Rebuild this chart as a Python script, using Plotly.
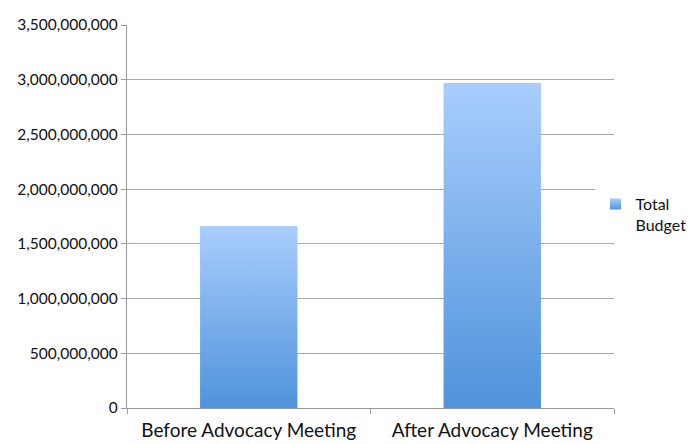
import plotly.graph_objects as go

categories = ["Before Advocacy Meeting", "After Advocacy Meeting"]
total_budget = [1_663_000_000, 2_970_000_000]
series_name = "Total<br>Budget"

BAR_HALF = 0.2
GRADIENT = [[0, "#4f93db"], [1, "#a9cdfd"]]

fig = go.Figure()

# bars drawn as filled rectangles so each can carry a vertical gradient
for i, (cat, val) in enumerate(zip(categories, total_budget)):
    fig.add_trace(go.Scatter(
        x=[i - BAR_HALF, i + BAR_HALF, i + BAR_HALF, i - BAR_HALF, i - BAR_HALF],
        y=[0, 0, val, val, 0],
        mode="lines",
        line=dict(width=0),
        fill="toself",
        fillgradient=dict(type="vertical", colorscale=GRADIENT),
        fillcolor="#7fb2ee",
        name=series_name,
        showlegend=False,
        hovertext=f"{cat}: {val:,}",
        hoverinfo="text",
    ))

# legend entry: small square with the same gradient
fig.add_trace(go.Scatter(
    x=[None], y=[None],
    mode="markers",
    marker=dict(symbol="square", size=11, color="#a9cdfd",
                gradient=dict(type="vertical", color="#4f93db"),
                line=dict(width=0)),
    name=series_name,
))

# page body has an 8px margin, so size/margins are offset by that
fig.update_layout(
    width=691, height=436,
    margin=dict(l=119, r=85, t=17, b=36, autoexpand=False),
    plot_bgcolor="white",
    paper_bgcolor="white",
    font=dict(family="Lato, Open Sans, sans-serif", size=15, color="#111111"),
    showlegend=True,
    legend=dict(
        x=0.962, y=0.505, xanchor="left", yanchor="middle",
        font=dict(size=16), itemwidth=30, tracegroupgap=0, valign="top",
    ),
    xaxis=dict(
        range=[-0.5, 1.5],
        tickvals=[0, 1], ticktext=categories,
        ticks="", showgrid=False, zeroline=False,
        showline=True, linecolor="#9a9a9a", linewidth=1.3,
        tickfont=dict(size=19),
        ticklabelstandoff=5,
        automargin=False,
        minor=dict(tickvals=[-0.5, 0.5, 1.5], ticks="outside",
                   ticklen=5, tickcolor="#9a9a9a", showgrid=False),
    ),
    yaxis=dict(
        range=[0, 3_500_000_000], dtick=500_000_000,
        tickformat=",d",
        showgrid=True, gridcolor="#a8a8a8", gridwidth=1.3,
        zeroline=False,
        showline=True, linecolor="#9a9a9a", linewidth=1.3,
        ticks="outside", ticklen=5, tickcolor="#9a9a9a",
        tickfont=dict(size=15.5),
        automargin=False,
    ),
)

fig.write_html("out.html")
